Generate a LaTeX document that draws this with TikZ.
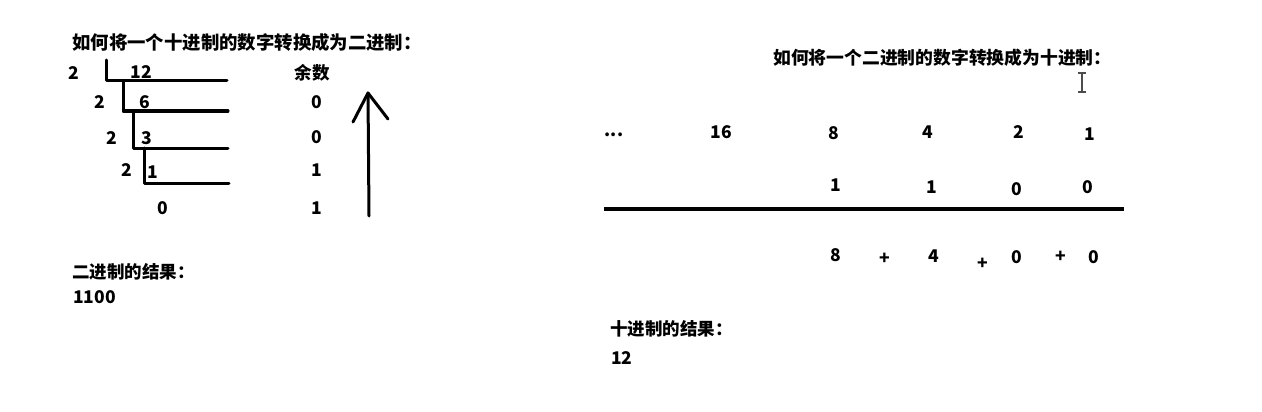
\documentclass[tikz,border=0pt]{standalone}
\usepackage{fontspec}
\setmainfont{Noto Sans CJK SC}
\begin{document}
\begin{tikzpicture}[x=1pt,y=-1pt,
  t/.style={inner sep=0pt, font=\fontsize{17.5}{18}\selectfont\bfseries},
  lbl/.style={t, anchor=west},
  cn/.style={inner sep=0pt, font=\fontsize{17.5}{18}\selectfont\bfseries, anchor=west},
  ln/.style={line width=3pt, line join=round, line cap=round},
  cur/.style={line width=1.2pt, draw=black!70}]
\useasboundingbox[fill=white] (0,0) rectangle (1262,412);

% ---------- left part ----------
\node[cn, font=\fontsize{18.4}{19}\selectfont\bfseries] (titleL) at (72,42) {如何将一个十进制的数字转换成为二进制：};

\node[t] (d1) at (74,73) {2};
\node[t] (n12) at (141,72) {12};
\node[t] (d2) at (100,102) {2};
\node[t] (n6) at (145,102) {6};
\node[t] (d3) at (112,138) {2};
\node[t] (n3) at (147,138) {3};
\node[t] (d4) at (127,170) {2};
\node[t] (n1) at (153,172) {1};
\node[t] (n0) at (163,208) {0};

\draw[ln] (106,60) -- (106,81) -- (227,81);
\draw[ln] (123,81) -- (123,111) -- (228,111);
\draw[ln] (133,111) -- (133,148) -- (228,148);
\draw[ln] (144,148) -- (144,183) -- (229,183);

\node[inner sep=0pt, font=\fontsize{17.5}{18}\selectfont\bfseries] (rem) at (312,73) {余数};
\node[t] (r1) at (317,102) {0};
\node[t] (r2) at (317,137) {0};
\node[t] (r3) at (317,170) {1};
\node[t] (r4) at (317,208) {1};

\coordinate (aBot) at (369,216);
\coordinate (aTip) at (368,93);
\coordinate (aL) at (353,122);
\coordinate (aR) at (388,119);
\draw[ln] (aBot) -- (aTip);
\draw[ln] (aL) -- (aTip) -- (aR);

\node[cn] (resL) at (72,272) {二进制的结果：};
\node[lbl] (bin) at (73,297) {1100};

% ---------- right part ----------
\node[cn, font=\fontsize{17.8}{18}\selectfont\bfseries] (titleR) at (773,58) {如何将一个二进制的数字转换成为十进制：};

\coordinate (c1) at (1082,74);
\coordinate (c2) at (1082,91);
\draw[cur] (c1) -- (c2);
\draw[cur] (1078,73) -- (1086,73);
\draw[cur] (1078,92) -- (1086,92);

\node[t] (dots) at (614,135) {...};
\node[t] (p16) at (721,132) {16};
\node[t] (p8) at (834,133) {8};
\node[t] (p4) at (928,132) {4};
\node[t] (p2) at (1019,132) {2};
\node[t] (p1) at (1090,134) {1};

\node[t] (b1) at (836,185) {1};
\node[t] (b2) at (932,187) {1};
\node[t] (b3) at (1017,189) {0};
\node[t] (b4) at (1088,187) {0};

\coordinate (lineA) at (604,209);
\coordinate (lineB) at (1124,209);
\draw[line width=4pt] (lineA) -- (lineB);

\node[t] (s8) at (836,255) {8};
\node[t] (plus1) at (885,259) {+};
\node[t] (s4) at (934,256) {4};
\node[t] (plus2) at (983,264) {+};
\node[t] (s0a) at (1017,257) {0};
\node[t] (plus3) at (1061,257) {+};
\node[t] (s0b) at (1094,257) {0};

\node[cn] (resR) at (610,329) {十进制的结果：};
\node[lbl] (dec) at (611,358) {12};
\end{tikzpicture}
\end{document}
